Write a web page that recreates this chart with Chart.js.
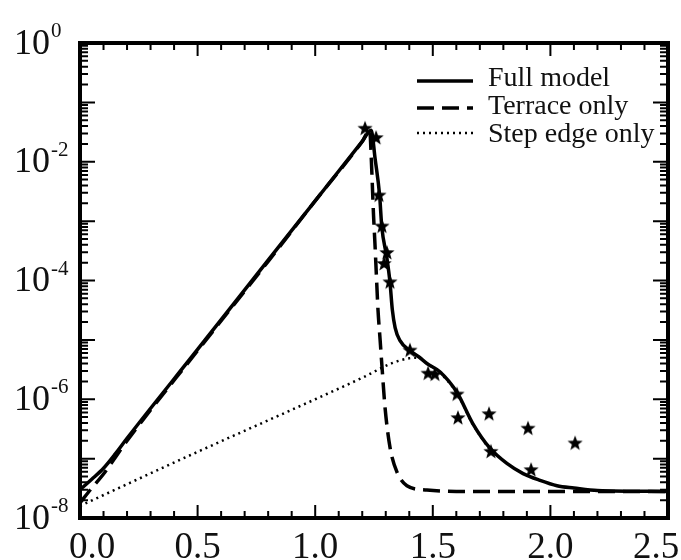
<!DOCTYPE html>
<html lang="en">
<head>
<meta charset="utf-8">
<title>Full model / Terrace only / Step edge only</title>
<script src="https://cdn.jsdelivr.net/npm/chart.js@4.4.1/dist/chart.umd.min.js"></script>
<style>
  html, body { margin: 0; padding: 0; background: #fff; }
  .chart-area { position: relative; width: 681px; height: 560px; }
</style>
</head>
<body>
<div class="chart-area">
  <canvas id="rate-chart"></canvas>
</div>
<script>
  // full model (solid)
  const fullX = [0, 0.05, 0.1, 0.15, 0.2, 0.5, 0.8, 1.0, 1.2, 1.238, 1.255, 1.274, 1.283, 1.304, 1.318, 1.328, 1.34, 1.36, 1.403, 1.44, 1.475, 1.53, 1.603, 1.67, 1.743, 1.815, 1.884, 1.956, 2.028, 2.1, 2.2, 2.5];
  const fullY = [3.0e-8, 4.5e-8, 6.9e-8, 1.2e-7, 2.2e-7, 6.9e-6, 2.2e-4, 2.2e-3, 2.2e-2, 3.4e-2, 1.1e-2, 2.7e-3, 8.1e-4, 2.5e-4, 9.3e-5, 3.2e-5, 1.6e-5, 9.8e-6, 6.6e-6, 5.2e-6, 4.0e-6, 2.9e-6, 1.3e-6, 3.9e-7, 1.5e-7, 8.3e-8, 5.6e-8, 4.3e-8, 3.5e-8, 3.2e-8, 2.9e-8, 2.8e-8];

  // terrace only (dashed)
  const terraceX = [0, 0.05, 0.1, 0.15, 0.2, 0.5, 0.8, 1.0, 1.2, 1.232, 1.238, 1.243, 1.248, 1.254, 1.26, 1.267, 1.276, 1.284, 1.297, 1.318, 1.348, 1.39, 1.475, 1.6, 2.5];
  const terraceY = [1.8e-8, 3.2e-8, 5.5e-8, 1.05e-7, 2.0e-7, 6.6e-6, 2.1e-4, 2.2e-3, 2.2e-2, 3.4e-2, 1.26e-2, 4.0e-3, 1.26e-3, 4.2e-4, 1.26e-4, 3.2e-5, 1.0e-5, 3.5e-6, 7.2e-7, 1.55e-7, 5.9e-8, 3.5e-8, 2.95e-8, 2.8e-8, 2.8e-8];

  // step edge only (dotted)
  const stepX = [0, 0.5, 1.0, 1.2, 1.33, 1.4, 1.44, 1.475, 1.53, 1.603, 1.67, 1.743];
  const stepY = [1.6e-8, 1.3e-7, 1.0e-6, 2.3e-6, 4.1e-6, 4.9e-6, 5.0e-6, 4.0e-6, 2.8e-6, 1.26e-6, 3.8e-7, 1.4e-7];

  // measured points (stars)
  const expX = [1.212, 1.259, 1.271, 1.284, 1.305, 1.293, 1.318, 1.403, 1.48, 1.509, 1.603, 1.607, 1.739, 1.747, 1.905, 1.918, 2.105];
  const expY = [3.6e-2, 2.5e-2, 2.7e-3, 8.1e-4, 2.9e-4, 1.9e-4, 9.3e-5, 6.6e-6, 2.7e-6, 2.6e-6, 1.2e-6, 4.8e-7, 5.6e-7, 1.3e-7, 3.2e-7, 6.4e-8, 1.8e-7];

  const xTickValues = [0, 0.5, 1.0, 1.5, 2.0, 2.5];
  const xTickLabels = ['0.0', '0.5', '1.0', '1.5', '2.0', '2.5'];
  const yTickExps = [0, -2, -4, -6, -8];
  const legendLabels = ['Full model', 'Terrace only', 'Step edge only'];

  const serif = '"Liberation Serif", "DejaVu Serif", serif';
  const ink = '#111';

  function pts(xs, ys) {
    return xs.map(function (v, i) { return { x: v, y: ys[i] }; });
  }

  function makeStar(r) {
    const c = document.createElement('canvas');
    c.width = c.height = r * 2 + 2;
    const g = c.getContext('2d');
    g.translate(r + 1, r + 1);
    g.fillStyle = '#000';
    g.beginPath();
    for (let i = 0; i < 10; i++) {
      const rad = i % 2 ? r * 0.42 : r;
      const a = -Math.PI / 2 + i * Math.PI / 5;
      g.lineTo(rad * Math.cos(a), rad * Math.sin(a));
    }
    g.closePath();
    g.fill();
    return c;
  }

  // frame, inward ticks, tick labels and legend
  const framePlugin = {
    id: 'frame',
    afterDraw(chart) {
      const ctx = chart.ctx;
      const a = chart.chartArea;
      const x = chart.scales.x;
      const y = chart.scales.y;
      ctx.save();
      ctx.strokeStyle = '#000';
      ctx.lineWidth = 2;
      ctx.beginPath();
      for (let i = 0; i <= 25; i++) {
        const px = x.getPixelForValue(i / 10);
        const len = i % 5 === 0 ? 13 : 7;
        ctx.moveTo(px, a.bottom); ctx.lineTo(px, a.bottom - len);
        ctx.moveTo(px, a.top); ctx.lineTo(px, a.top + len);
      }
      for (let e = -8; e <= 0; e++) {
        for (let k = 1; k <= 9; k++) {
          if (e === 0 && k > 1) break;
          const py = y.getPixelForValue(k * Math.pow(10, e));
          const len = k === 1 ? 15 : 8;
          ctx.moveTo(a.left, py); ctx.lineTo(a.left + len, py);
          ctx.moveTo(a.right, py); ctx.lineTo(a.right - len, py);
        }
      }
      ctx.stroke();
      ctx.lineWidth = 4;
      ctx.strokeRect(a.left, a.top, a.right - a.left, a.bottom - a.top);

      // x labels (end labels pulled inward as in the figure)
      ctx.fillStyle = ink;
      ctx.font = '37px ' + serif;
      ctx.textAlign = 'center';
      ctx.textBaseline = 'alphabetic';
      xTickValues.forEach(function (v, i) {
        let px = x.getPixelForValue(v);
        if (i === 0) px += 12;
        if (i === xTickValues.length - 1) px -= 12;
        ctx.fillText(xTickLabels[i], px, 558);
      });

      // y labels 10^n
      ctx.textAlign = 'left';
      yTickExps.forEach(function (e) {
        const py = y.getPixelForValue(Math.pow(10, e));
        ctx.font = '36px ' + serif;
        ctx.fillText('10', 14, py + 10.5);
        const w = ctx.measureText('10').width;
        ctx.font = '21px ' + serif;
        ctx.fillText(String(e), 14 + w + 1, py - 6);
      });

      // legend
      const rows = [
        { dash: [], width: 3.5, lineY: 81, textY: 86 },
        { dash: [17, 8], width: 3.5, lineY: 108, textY: 114 },
        { dash: [2, 4], width: 2.5, lineY: 133, textY: 142 }
      ];
      rows.forEach(function (r, i) {
        ctx.beginPath();
        ctx.setLineDash(r.dash);
        ctx.lineWidth = r.width;
        ctx.moveTo(417, r.lineY);
        ctx.lineTo(473, r.lineY);
        ctx.stroke();
        ctx.setLineDash([]);
        ctx.font = '28px ' + serif;
        ctx.fillText(legendLabels[i], 488, r.textY);
      });
      ctx.restore();
    }
  };

  const chartData = {
    datasets: [{
        label: 'Experiment',
        data: pts(expX, expY),
        showLine: false,
        pointStyle: makeStar(8),
        pointRadius: 8
      }, {
        label: legendLabels[0],
        data: pts(fullX, fullY),
        showLine: true,
        borderColor: '#000',
        borderWidth: 3.5,
        pointRadius: 0,
        cubicInterpolationMode: 'monotone'
      }, {
        label: legendLabels[1],
        data: pts(terraceX, terraceY),
        showLine: true,
        borderColor: '#000',
        borderWidth: 3.5,
        borderDash: [17, 8],
        pointRadius: 0,
        cubicInterpolationMode: 'monotone'
      }, {
        label: legendLabels[2],
        data: pts(stepX, stepY),
        showLine: true,
        borderColor: '#000',
        borderWidth: 2.5,
        borderDash: [2, 4],
        pointRadius: 0,
        cubicInterpolationMode: 'monotone'
      }
    ]
  };

  const scatterConfig = {
    type: 'scatter',
    data: chartData,
    options: {
      responsive: true,
      maintainAspectRatio: false,
      animation: false,
      layout: { padding: { left: 80, top: 43, right: 13, bottom: 42 } },
      plugins: {
        legend: { display: false },
        tooltip: { enabled: false }
      },
      scales: {
        x: { type: 'linear', min: 0, max: 2.5, display: false },
        y: { type: 'logarithmic', min: 1e-8, max: 1, display: false }
      }
    },
    plugins: [framePlugin]
  };

  window.onload = function () {
    const view = document.getElementById('rate-chart').getContext('2d');
    window.chart1 = new Chart(view, scatterConfig);
  };
</script>
</body>
</html>
